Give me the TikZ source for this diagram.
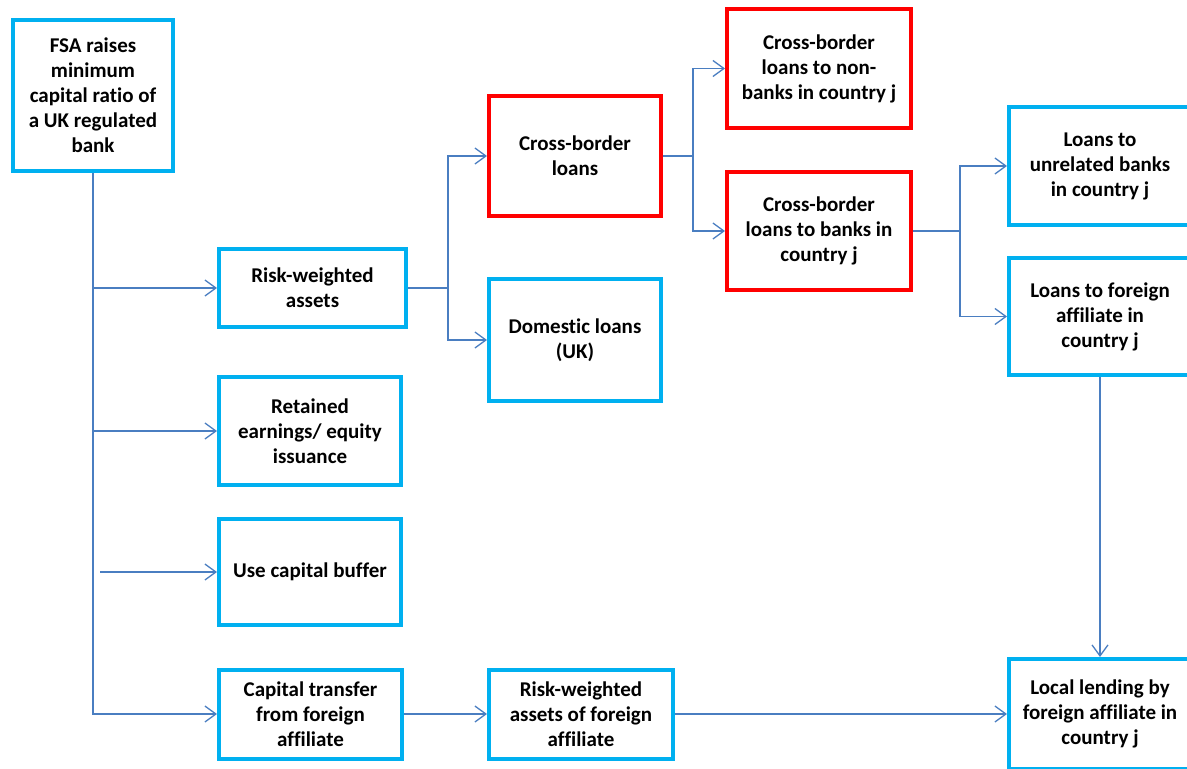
\documentclass[tikz,border=0pt]{standalone}
\usepackage{fontspec}
\setmainfont{Carlito}[Ligatures=NoCommon]
\usetikzlibrary{arrows.meta}
\definecolor{boxblue}{RGB}{0,176,240}
\definecolor{boxred}{RGB}{255,0,0}
\definecolor{conncol}{RGB}{74,126,193}
\tikzset{
  bluebox/.style={draw=boxblue, line width=4pt, fill=white, align=center, inner sep=2pt,
    font=\fontsize{21}{25}\selectfont\bfseries},
  redbox/.style={bluebox, draw=boxred},
  conn/.style={draw=conncol, line width=1.3pt},
  arr/.style={conn, -{Straight Barb[length=11pt,width=16pt,line width=1.3pt]}},
}
\begin{document}
\begin{tikzpicture}[x=1pt,y=-1pt]
\useasboundingbox (0,0) rectangle (1187,769);
% nodes
\node[bluebox, minimum width=160pt, minimum height=151pt] (fsa) at (93,95.5)
  {FSA raises\\minimum\\capital ratio of\\a UK regulated\\bank};
\node[bluebox, minimum width=187pt, minimum height=78pt] (rwa) at (312.5,288)
  {Risk-weighted\\assets};
\node[bluebox, minimum width=182pt, minimum height=108pt] (ret) at (310,431)
  {Retained\\earnings/ equity\\issuance};
\node[bluebox, minimum width=182pt, minimum height=106pt] (buf) at (310,572)
  {Use capital buffer};
\node[bluebox, minimum width=183pt, minimum height=89pt] (cap) at (310.5,714)
  {Capital transfer\\from foreign\\affiliate};
\node[redbox, minimum width=172pt, minimum height=120pt] (cbl) at (575,156)
  {Cross-border\\loans};
\node[bluebox, minimum width=172pt, minimum height=122pt] (dom) at (575,340)
  {Domestic loans\\(UK)};
\node[bluebox, minimum width=184pt, minimum height=89pt] (rwaf) at (581,714)
  {Risk-weighted\\assets of foreign\\affiliate};
\node[redbox, minimum width=184pt, minimum height=119pt] (nb) at (819,68.5)
  {Cross-border\\loans to non-\\banks in country j};
\node[redbox, minimum width=184pt, minimum height=118pt] (bk) at (819,231)
  {Cross-border\\loans to banks in\\country j};
\node[bluebox, minimum width=182pt, minimum height=118pt] (unr) at (1100,166)
  {Loans to\\unrelated banks\\in country j};
\node[bluebox, minimum width=182pt, minimum height=117pt] (aff) at (1100,316.5)
  {Loans to foreign\\affiliate in\\country j};
\node[bluebox, minimum width=182pt, minimum height=110pt] (loc) at (1100,714)
  {Local lending by\\foreign affiliate in\\country j};
% connectors
\draw[arr] (fsa.south) |- (cap.west);
\draw[arr] (fsa.south |- rwa.west) -- (rwa.west);
\draw[arr] (fsa.south |- ret.west) -- (ret.west);
\coordinate (bufstart) at (100,572);
\draw[arr] (bufstart) -- (buf.west);
\draw[conn] (rwa.east) -- ++(40,0) coordinate (j1);
\draw[arr] (j1) |- (cbl.west);
\draw[arr] (j1) |- (dom.west);
\draw[conn] (cbl.east) -- ++(30,0) coordinate (j2);
\draw[arr] (j2) |- (nb.west);
\draw[arr] (j2) |- (bk.west);
\draw[conn] (bk.east) -- ++(47,0) coordinate (j3);
\draw[arr] (j3) |- (unr.west);
\draw[arr] (j3) |- (aff.west);
\draw[arr] (aff.south) -- (loc.north);
\draw[arr] (cap.east) -- (rwaf.west);
\draw[arr] (rwaf.east) -- (loc.west);
\end{tikzpicture}
\end{document}
